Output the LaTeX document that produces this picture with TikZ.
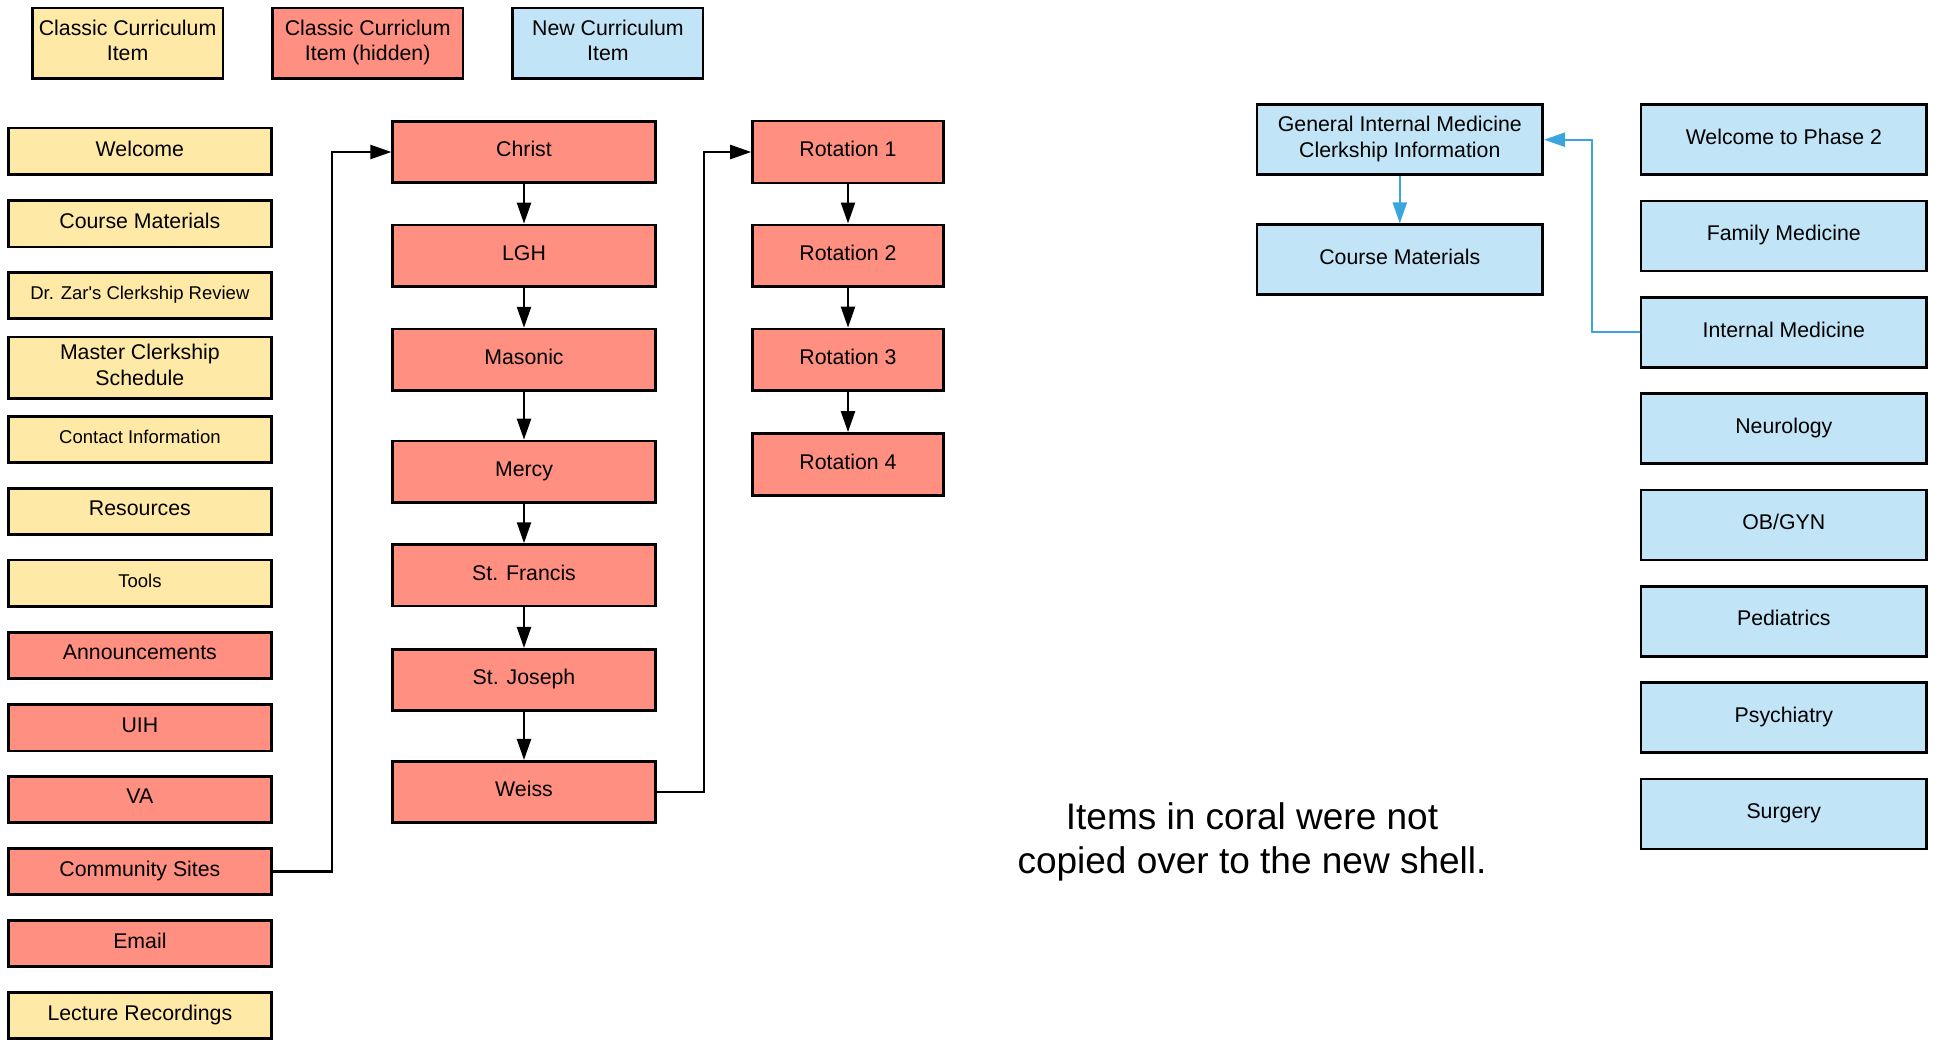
\documentclass[tikz,border=0pt]{standalone}
\usepackage{fontspec}
\setmainfont{Liberation Sans}[Ligatures=TeXOff]
\usetikzlibrary{arrows.meta}
\definecolor{cyel}{HTML}{FFE9A6}
\definecolor{ccor}{HTML}{FF8F80}
\definecolor{cblu}{HTML}{C1E4F7}
\definecolor{cline}{HTML}{3AA6DD}
\begin{document}
\begin{tikzpicture}[x=1pt,y=-1pt,
  box/.style={draw=black, line width=2.6pt, inner sep=2pt, align=center,
    text depth=6pt, font=\fontsize{21.3}{25.5}\selectfont},
  small/.style={font=\fontsize{18.5}{22}\selectfont},
  yel/.style={box, fill=cyel},
  cor/.style={box, fill=ccor},
  blu/.style={box, fill=cblu},
  legbox/.style={minimum width=190.4pt, minimum height=70.7pt},
  lcol/.style={minimum width=262.6pt, minimum height=46.5pt},
  mcol/.style={minimum width=262.7pt, minimum height=61.5pt},
  rcol/.style={minimum width=191pt, minimum height=61.8pt},
  bcol/.style={minimum width=285.8pt, minimum height=70pt},
  conn/.style={draw=black, line width=2.3pt, -{Triangle[length=21pt,width=14pt]}},
  bconn/.style={conn, draw=cline, -{Triangle[length=21pt,width=14pt,fill=cline]}}
]
\fill[white] (0,0) rectangle (1940,1039);
\useasboundingbox (0,0) rectangle (1940,1039);

% legend
\node[yel, legbox] (lg1) at (127.6,43.3) {Classic Curriculum\\Item};
\node[cor, legbox] (lg2) at (367.7,43.3) {Classic Curriclum\\Item (hidden)};
\node[blu, legbox] (lg3) at (607.9,43.3) {New Curriculum\\Item};

% left column
\node[yel, lcol] (welcome) at (139.9,151.3) {Welcome};
\node[yel, lcol] (course) at (139.9,223.7) {Course Materials};
\node[yel, lcol, small] (drzar) at (139.9,295.5) {Dr. Zar's Clerkship Review};
\node[yel, lcol, minimum height=61.7pt] (master) at (139.9,367.9) {Master Clerkship\\Schedule};
\node[yel, lcol, small] (contact) at (139.9,439.5) {Contact Information};
\node[yel, lcol] (resources) at (139.9,511.5) {Resources};
\node[yel, lcol, small] (tools) at (139.9,583.3) {Tools};
\node[cor, lcol] (announce) at (139.9,655.5) {Announcements};
\node[cor, lcol] (uih) at (139.9,727.7) {UIH};
\node[cor, lcol] (va) at (139.9,799.5) {VA};
\node[cor, lcol] (comm) at (139.9,871.5) {Community Sites};
\node[cor, lcol] (email) at (139.9,943.5) {Email};
\node[yel, lcol] (lecture) at (139.9,1015.5) {Lecture Recordings};

% middle column
\node[cor, mcol] (christ) at (524,152) {Christ};
\node[cor, mcol] (lgh) at (524,255.7) {LGH};
\node[cor, mcol] (masonic) at (524,359.8) {Masonic};
\node[cor, mcol] (mercy) at (524,471.7) {Mercy};
\node[cor, mcol] (francis) at (524,575.3) {St. Francis};
\node[cor, mcol] (joseph) at (524,680) {St. Joseph};
\node[cor, mcol] (weiss) at (524,792) {Weiss};

% rotations
\node[cor, rcol] (rot1) at (848,152) {Rotation 1};
\node[cor, rcol] (rot2) at (848,255.7) {Rotation 2};
\node[cor, rcol] (rot3) at (848,359.8) {Rotation 3};
\node[cor, rcol] (rot4) at (848,464.3) {Rotation 4};

% new curriculum
\node[blu, bcol] (gim) at (1399.8,139.7) {General Internal Medicine\\Clerkship Information};
\node[blu, bcol] (ncm) at (1399.8,259.7) {Course Materials};
\node[blu, bcol] (phase2) at (1783.8,139.7) {Welcome to Phase 2};
\node[blu, bcol] (family) at (1783.8,236) {Family Medicine};
\node[blu, bcol] (intm) at (1783.8,332.3) {Internal Medicine};
\node[blu, bcol] (neuro) at (1783.8,428.6) {Neurology};
\node[blu, bcol] (obgyn) at (1783.8,524.9) {OB/GYN};
\node[blu, bcol] (peds) at (1783.8,621.2) {Pediatrics};
\node[blu, bcol] (psych) at (1783.8,717.5) {Psychiatry};
\node[blu, bcol] (surg) at (1783.8,813.8) {Surgery};

% note
\node[inner sep=0pt, align=center, font=\fontsize{37}{44}\selectfont] (note) at (1252,841.5)
  {Items in coral were not\\copied over to the new shell.};

% connectors
\coordinate (k1) at (332,871.5);
\coordinate (k2) at (703.7,792);
\coordinate (k3) at (1592.2,332.3);

\draw[conn] (comm.east) -- (k1) |- (christ.west);
\draw[conn] (christ.south) -- (lgh.north);
\draw[conn] (lgh.south) -- (masonic.north);
\draw[conn] (masonic.south) -- (mercy.north);
\draw[conn] (mercy.south) -- (francis.north);
\draw[conn] (francis.south) -- (joseph.north);
\draw[conn] (joseph.south) -- (weiss.north);
\draw[conn] (weiss.east) -- (k2) |- (rot1.west);
\draw[conn] (rot1.south) -- (rot2.north);
\draw[conn] (rot2.south) -- (rot3.north);
\draw[conn] (rot3.south) -- (rot4.north);
\draw[bconn] (intm.west) -- (k3) |- (gim.east);
\draw[bconn] (gim.south) -- (ncm.north);
\end{tikzpicture}
\end{document}
